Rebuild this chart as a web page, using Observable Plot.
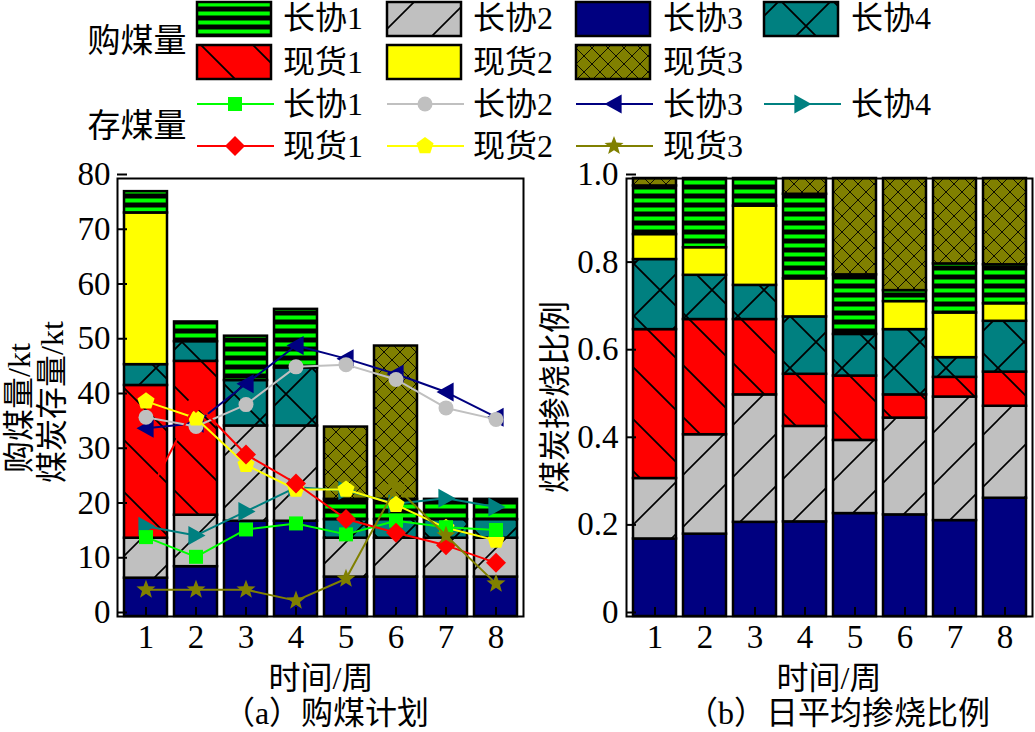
<!DOCTYPE html>
<html><head><meta charset="utf-8">
<script src="https://cdn.jsdelivr.net/npm/d3@7"></script>
<script src="https://cdn.jsdelivr.net/npm/@observablehq/plot@0.6"></script>
<style>
body{margin:0;background:#fff;}
#root{position:relative;width:1035px;height:732px;overflow:hidden;font-family:"Liberation Serif","Noto Sans CJK SC",serif;color:#000;}
.lbl{position:absolute;white-space:nowrap;font-size:32px;line-height:1;transform:translate(-50%,-50%);}
.rot{transform:translate(-50%,-50%) rotate(-90deg);}
.pl{position:absolute;top:160px;}
</style></head><body>
<svg width="0" height="0" style="position:absolute">
<defs>
<pattern id="pXY1" patternUnits="userSpaceOnUse" width="10" height="9">
<rect width="10" height="9" fill="#000"/><rect y="2.5" width="10" height="4" fill="#00FF00"/>
</pattern>
<pattern id="pXY2" patternUnits="userSpaceOnUse" width="52" height="52">
<rect width="52" height="52" fill="#C0C0C0"/>
<path d="M-13,13L13,-13M0,52L52,0M39,65L65,39" stroke="#000" stroke-width="1.6"/>
</pattern>
<pattern id="pXY4" patternUnits="userSpaceOnUse" width="52" height="52">
<rect width="52" height="52" fill="#008080"/>
<path d="M-13,13L13,-13M0,52L52,0M39,65L65,39M0,0L52,52M-13,39L13,65M39,-13L65,13" stroke="#000" stroke-width="1.8"/>
</pattern>
<pattern id="pXH1" patternUnits="userSpaceOnUse" width="52" height="52">
<rect width="52" height="52" fill="#FF0000"/>
<path d="M0,0L52,52M-13,39L13,65M39,-13L65,13" stroke="#000" stroke-width="1.8"/>
</pattern>
<pattern id="pXH3" patternUnits="userSpaceOnUse" width="16" height="16">
<rect width="16" height="16" fill="#808000"/>
<path d="M0,0L16,16M16,0L0,16M-4,4L4,-4M12,20L20,12M-4,12L4,20M12,-4L20,4" stroke="#000" stroke-width="0.9"/>
</pattern>
</defs>
</svg>
<div id="root"></div>
<script>
// ---------- data ----------
const weeks = [1, 2, 3, 4, 5, 6, 7, 8];
const seriesOrder = ["长协3", "长协2", "现货1", "长协4", "现货2", "长协1", "现货3"];

// 购煤量 / kt
const buyXY3 = [7.0, 9.1, 17.4, 17.4, 7.2, 7.2, 7.2, 7.2];
const buyXY2 = [7.3, 9.4, 17.4, 17.4, 7.1, 7.1, 7.1, 7.1];
const buyXH1 = [27.9, 28.1, 0, 0, 0, 0, 0, 0];
const buyXY4 = [3.8, 3.6, 8.3, 10.6, 3.4, 3.4, 3.4, 3.4];
const buyXH2 = [27.7, 0, 0, 0, 0, 0, 0, 0];
const buyXY1 = [3.9, 3.6, 8.1, 10.7, 3.7, 3.7, 3.7, 3.7];
const buyXH3 = [0, 0, 0, 0, 13.2, 28.0, 0, 0];

// 煤炭存量 / kt
const stoXY1 = [14.5, 10.9, 15.9, 17.0, 15.0, 17.5, 16.3, 15.8];
const stoXY2 = [36.4, 34.7, 38.7, 45.6, 46.0, 43.3, 38.1, 36.0];
const stoXY3 = [34.4, 35.3, 42.5, 49.5, 47.1, 44.3, 41.0, 36.4];
const stoXY4 = [16.5, 14.8, 19.2, 23.6, 23.0, 20.6, 21.6, 20.0];
const stoXH1 = [21.5, 39.0, 29.6, 24.3, 17.8, 15.3, 13.0, 9.8];
const stoXH2 = [39.3, 36.2, 27.7, 23.2, 23.2, 20.4, 16.2, 13.9];
const stoXH3 = [4.9, 4.9, 4.9, 2.9, 6.9, 23.6, 14.8, 6.0];

// 日平均掺烧比例
const ratXY3 = [0.177, 0.188, 0.215, 0.216, 0.235, 0.232, 0.219, 0.270];
const ratXY2 = [0.138, 0.227, 0.291, 0.218, 0.167, 0.221, 0.282, 0.210];
const ratXH1 = [0.340, 0.263, 0.172, 0.119, 0.147, 0.053, 0.045, 0.078];
const ratXY4 = [0.160, 0.101, 0.078, 0.131, 0.095, 0.149, 0.045, 0.116];
const ratXH2 = [0.057, 0.063, 0.181, 0.087, 0, 0.064, 0.102, 0.040];
const ratXY1 = [0.111, 0.158, 0.063, 0.193, 0.136, 0.025, 0.112, 0.089];
const ratXH3 = [0.017, 0, 0, 0.036, 0.220, 0.256, 0.195, 0.197];

const leftYTicks = [0, 10, 20, 30, 40, 50, 60, 70, 80];
const rightYTicks = [0, 0.2, 0.4, 0.6, 0.8, 1.0];
const rightYTickLabels = ["0", "0.2", "0.4", "0.6", "0.8", "1.0"];

// ---------- styling ----------
const fillOf = {
  "长协1": "url(#pXY1)", "长协2": "url(#pXY2)", "长协3": "#000080", "长协4": "url(#pXY4)",
  "现货1": "url(#pXH1)", "现货2": "#FFFF00", "现货3": "url(#pXH3)"
};
const colorOf = {
  "长协1": "#00FF00", "长协2": "#C0C0C0", "长协3": "#000080", "长协4": "#008080",
  "现货1": "#FF0000", "现货2": "#FFFF00", "现货3": "#808000"
};
const R = (size) => Math.sqrt(size / Math.PI);
const symSquare = {draw(c, size) { const s = R(size); c.rect(-s, -s, 2 * s, 2 * s); }};
const symCircle = {draw(c, size) { const s = R(size); c.moveTo(s, 0); c.arc(0, 0, s, 0, 2 * Math.PI); }};
const symDiamond = {draw(c, size) { const s = R(size); c.moveTo(0, -s); c.lineTo(s, 0); c.lineTo(0, s); c.lineTo(-s, 0); c.closePath(); }};
const symPentagon = {draw(c, size) { const s = R(size);
  for (let i = 0; i < 5; i++) { const a = -Math.PI / 2 + i * 2 * Math.PI / 5; const x = s * Math.cos(a), y = s * Math.sin(a); i ? c.lineTo(x, y) : c.moveTo(x, y); }
  c.closePath(); }};
const symTriLeft = {draw(c, size) { const s = R(size); c.moveTo(-s, 0); c.lineTo(0.8 * s, -s); c.lineTo(0.8 * s, s); c.closePath(); }};
const symTriRight = {draw(c, size) { const s = R(size); c.moveTo(s, 0); c.lineTo(-0.8 * s, -s); c.lineTo(-0.8 * s, s); c.closePath(); }};
const symStar = {draw(c, size) { const s = R(size);
  for (let i = 0; i < 10; i++) { const r = i % 2 ? s * 0.42 : s; const a = -Math.PI / 2 + i * Math.PI / 5; const x = r * Math.cos(a), y = r * Math.sin(a); i ? c.lineTo(x, y) : c.moveTo(x, y); }
  c.closePath(); }};
const symOf = {"长协1": symSquare, "长协2": symCircle, "长协3": symTriLeft, "长协4": symTriRight,
  "现货1": symDiamond, "现货2": symPentagon, "现货3": symStar};
const rOf = {"长协1": 7, "长协2": 7.5, "长协3": 9.5, "长协4": 9.5, "现货1": 10, "现货2": 9, "现货3": 10};

function tidy(map) {
  const out = [];
  for (const s of seriesOrder) {
    if (!(s in map)) continue;
    map[s].forEach((v, i) => { if (v > 0) out.push({week: weeks[i], series: s, value: v}); });
  }
  return out;
}
const buyData = tidy({"长协3": buyXY3, "长协2": buyXY2, "现货1": buyXH1, "长协4": buyXY4, "现货2": buyXH2, "长协1": buyXY1, "现货3": buyXH3});
const ratData = tidy({"长协3": ratXY3, "长协2": ratXY2, "现货1": ratXH1, "长协4": ratXY4, "现货2": ratXH2, "长协1": ratXY1, "现货3": ratXH3});
const stoMap = {"长协1": stoXY1, "长协2": stoXY2, "长协3": stoXY3, "长协4": stoXY4, "现货1": stoXH1, "现货2": stoXH2, "现货3": stoXH3};
const lineOrder = ["长协3", "长协4", "长协2", "现货2", "长协1", "现货1", "现货3"];

const FONT = '"Liberation Serif","Noto Sans CJK SC",serif';

function chart({data, yDomain, yTicks, yFormat, width, marginLeft, marginRight, extra = [], yPad}) {
  return Plot.plot({
    width, height: 500, marginLeft, marginRight, marginTop: 18, marginBottom: 44,
    x: {type: "band", domain: weeks, paddingInner: 0.14, paddingOuter: 0.07},
    y: {domain: yDomain},
    color: {type: "identity"},
    style: {fontFamily: FONT, fontSize: "33px", color: "black", background: "transparent", overflow: "visible"},
    marks: [
      Plot.barY(data, Plot.stackY({x: "week", y: "value", z: "series", fill: d => fillOf[d.series], stroke: "black", strokeWidth: 2.5})),
      Plot.frame({stroke: "black", strokeWidth: 2}),
      Plot.axisY({ticks: yTicks, tickFormat: yFormat, tickSize: -10, tickPadding: yPad, dy: -4, fontSize: 33, fontFamily: "Liberation Serif", strokeWidth: 2, label: null}),
      Plot.axisX({tickSize: -9, tickPadding: 17, fontSize: 33, fontFamily: "Liberation Serif", strokeWidth: 2, label: null}),
      ...extra
    ]
  });
}

const lineMarks = [];
for (const s of lineOrder) {
  const d = stoMap[s].map((v, i) => ({week: weeks[i], value: v}));
  lineMarks.push(Plot.line(d, {x: "week", y: "value", stroke: colorOf[s], strokeWidth: 2}));
  lineMarks.push(Plot.dot(d, {x: "week", y: "value", symbol: symOf[s], r: rOf[s], fill: colorOf[s], stroke: "none"}));
}

const root = document.getElementById("root");

const left = chart({data: buyData, yDomain: [0, 80], yTicks: leftYTicks, yFormat: d => String(d),
  width: 535, marginLeft: 117, marginRight: 12, extra: lineMarks, yPad: 17});
const right = chart({data: ratData, yDomain: [0, 1], yTicks: rightYTicks, yFormat: (d, i) => rightYTickLabels[i],
  width: 505, marginLeft: 96, marginRight: 3, yPad: 18});

const dl = document.createElement("div"); dl.className = "pl"; dl.style.left = "0px"; dl.appendChild(left); root.appendChild(dl);
const dr = document.createElement("div"); dr.className = "pl"; dr.style.left = "530px"; dr.appendChild(right); root.appendChild(dr);

// ---------- legend ----------
const legendRows1 = ["长协1", "长协2", "长协3", "长协4"];
const legendRows2 = ["现货1", "现货2", "现货3"];
const colX = [197, 387, 576, 764];
const textX = [283, 473, 663, 851];
const lg = d3.select(root).append("svg").attr("width", 1035).attr("height", 165)
  .style("position", "absolute").style("left", 0).style("top", 0).style("font-family", FONT);
function swatchRow(names, y, ty) {
  names.forEach((s, i) => {
    lg.append("rect").attr("x", colX[i]).attr("y", y).attr("width", 74).attr("height", 34)
      .attr("fill", fillOf[s]).attr("stroke", "#000").attr("stroke-width", 2.5);
    lg.append("text").attr("x", textX[i]).attr("y", ty).attr("dominant-baseline", "central")
      .attr("font-size", 32).text(s);
  });
}
function lineRow(names, y) {
  names.forEach((s, i) => {
    lg.append("line").attr("x1", colX[i]).attr("x2", colX[i] + 77).attr("y1", y).attr("y2", y)
      .attr("stroke", colorOf[s]).attr("stroke-width", 2);
    lg.append("path").attr("transform", `translate(${colX[i] + 38},${y})`)
      .attr("d", d3.symbol(symOf[s], Math.PI * rOf[s] * rOf[s])()).attr("fill", colorOf[s]);
    lg.append("text").attr("x", textX[i]).attr("y", y).attr("dominant-baseline", "central")
      .attr("font-size", 32).text(s);
  });
}
swatchRow(legendRows1, 2, 18);
swatchRow(legendRows2, 45, 62);
lineRow(legendRows1, 104);
lineRow(legendRows2, 146);
lg.append("text").attr("x", 137).attr("y", 41).attr("text-anchor", "middle").attr("dominant-baseline", "central").attr("font-size", 33).text("购煤量");
lg.append("text").attr("x", 137).attr("y", 126).attr("text-anchor", "middle").attr("dominant-baseline", "central").attr("font-size", 33).text("存煤量");

// ---------- text labels ----------
function label(txt, x, y, rot) {
  const d = document.createElement("div");
  d.className = "lbl" + (rot ? " rot" : "");
  d.style.left = x + "px"; d.style.top = y + "px"; d.textContent = txt;
  root.appendChild(d);
}
label("购煤量/kt", 19, 408, true);
label("煤炭存量/kt", 52, 402, true);
label("煤炭掺烧比例", 555, 397, true);
label("时间/周", 321, 678, false);
label("时间/周", 829, 678, false);
label("（a）购煤计划", 326, 713, false);
label("（b）日平均掺烧比例", 838, 713, false);
</script></body></html>
